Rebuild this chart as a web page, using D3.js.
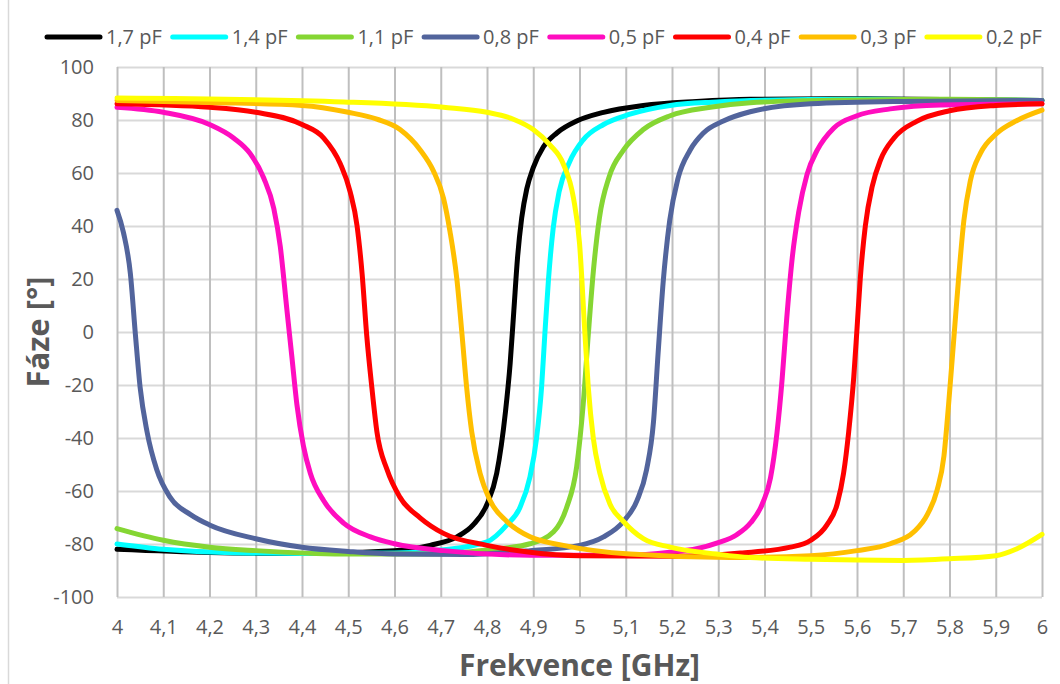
<!DOCTYPE html>
<html>
<head>
<meta charset="utf-8">
<script src="https://cdn.jsdelivr.net/npm/d3@7"></script>
<style>
  html, body { margin: 0; padding: 0; background: #fff; }
  svg { display: block; }
  text { font-family: "Open Sans", "Noto Sans", sans-serif; fill: #595959; }
</style>
</head>
<body>
<svg id="chart" width="1060" height="684"></svg>
<script>
// Phase response [°] vs. frequency [GHz] for several capacitances
const labels = ["1,7 pF", "1,4 pF", "1,1 pF", "0,8 pF", "0,5 pF", "0,4 pF", "0,3 pF", "0,2 pF"];

const xTicks = [4, 4.1, 4.2, 4.3, 4.4, 4.5, 4.6, 4.7, 4.8, 4.9, 5, 5.1, 5.2, 5.3, 5.4, 5.5, 5.6, 5.7, 5.8, 5.9, 6];
const yTicks = [-100, -80, -60, -40, -20, 0, 20, 40, 60, 80, 100];

// [frequency, phase] samples for each curve
const c17 = [[4.0,-82.0],[4.2,-83.2],[4.4,-83.6],[4.6,-82.5],[4.677,-80.5],[4.735,-77.3],[4.77,-72.8],[4.8,-65],[4.821,-53.3],
  [4.84,-30],[4.85,-12],[4.858,8],[4.866,28],[4.875,43],[4.886,54],[4.9,62],[4.922,69.9],[4.951,75.1],[4.994,79.6],
  [5.052,82.9],[5.138,85.5],[5.253,87],[5.369,87.8],[5.6,88],[6.0,87.4]];
const c14 = [[4.0,-80.0],[4.1,-82.0],[4.2,-83.0],[4.4,-83.6],[4.6,-83.4],[4.7,-82.3],[4.8,-79.2],[4.843,-72.8],[4.871,-66.3],
  [4.893,-54.6],[4.907,-40.3],[4.918,-20.9],[4.925,-1],[4.933,20],[4.943,39],[4.956,53],[4.978,64],[5.008,72.5],
  [5.052,78.3],[5.109,82.2],[5.196,85.5],[5.297,86.8],[5.37,87.4],[5.6,87.8],[6.0,87.4]];
const c11 = [[4.0,-74.2],[4.1,-78.6],[4.2,-81.2],[4.3,-82.5],[4.49,-83.8],[4.677,-83.8],[4.8,-82.3],[4.893,-79.9],[4.944,-75.4],
  [4.972,-66.3],[4.994,-50.7],[5.008,-27.3],[5.019,-1],[5.03,23],[5.043,43],[5.064,58.5],[5.095,68.6],[5.138,76.4],
  [5.196,81.6],[5.283,84.8],[5.369,86.5],[5.55,87.5],[5.8,87.8],[6.0,87.4]];
const c08 = [[4.0,45.9],[4.014,37.5],[4.029,21.9],[4.04,-1.4],[4.05,-20.9],[4.065,-37.7],[4.086,-52],[4.115,-62.4],[4.159,-68.9],
  [4.2,-72.8],[4.3,-78],[4.4,-81.2],[4.5,-82.8],[4.6,-83.8],[4.75,-84],[4.893,-82.5],[5.0,-80.5],[5.052,-77.3],[5.095,-71.5],
  [5.124,-63.7],[5.145,-52],[5.16,-33.9],[5.17,-7.9],[5.181,19],[5.195,42],[5.213,58],[5.239,68.6],[5.268,75.1],
  [5.311,79.6],[5.369,83.1],[5.5,86.1],[5.7,87],[6.0,87.4]];
const c05 = [[4.0,84.8],[4.1,82.9],[4.2,78.3],[4.252,73.2],[4.288,67.3],[4.317,58.2],[4.339,46.6],[4.353,32.3],[4.367,9],
  [4.378,-9.2],[4.389,-27.4],[4.403,-42.9],[4.418,-53.3],[4.447,-63.7],[4.49,-72.1],[4.548,-77.3],[4.6,-79.9],[4.706,-82.5],
  [4.893,-84.2],[5.1,-84.2],[5.2,-83],[5.253,-81.8],[5.3,-79.5],[5.34,-76.5],[5.37,-72],[5.395,-65],[5.413,-55],[5.427,-38],
  [5.438,-18],[5.448,5],[5.46,28],[5.474,45.3],[5.492,59.5],[5.514,68.6],[5.55,77],[5.6,81.6],[5.672,84.2],[5.78,85.7],[6.0,86.1]];
const c04 = [[4.0,86.1],[4.2,84.8],[4.3,82.9],[4.4,78.3],[4.447,73.2],[4.483,63.4],[4.504,53],[4.519,40.1],[4.53,21.9],
  [4.54,-1.4],[4.551,-20.9],[4.562,-37.7],[4.584,-52],[4.612,-62.4],[4.656,-70.2],[4.706,-76],[4.8,-80.5],[4.893,-83.1],
  [5.0,-84.4],[5.2,-84.6],[5.348,-83.4],[5.456,-81.2],[5.5,-78.6],[5.535,-72.8],[5.557,-65],[5.571,-53.3],[5.582,-37.7],
  [5.593,-17],[5.6,1.2],[5.607,20],[5.618,40],[5.633,55],[5.651,65],[5.68,73.2],[5.73,79.6],[5.8,83.5],[5.9,85.5],[6.0,86.1]];
const c03 = [[4.0,87.4],[4.2,86.6],[4.4,85.5],[4.5,82.9],[4.562,80.3],[4.612,76.4],[4.656,68.6],[4.684,60.8],[4.706,50.4],
  [4.72,37.9],[4.735,19.7],[4.746,-1],[4.756,-20.9],[4.767,-37.7],[4.785,-53.3],[4.807,-63.7],[4.843,-71.5],[4.893,-77.3],
  [4.965,-80.5],[5.109,-83.8],[5.325,-85.1],[5.5,-84.4],[5.6,-82.5],[5.672,-79.9],[5.723,-75.4],[5.752,-68.9],[5.773,-59.8],
  [5.788,-46.8],[5.798,-27.4],[5.81,-1],[5.82,21],[5.831,42],[5.845,57],[5.867,67.5],[5.9,74.6],[5.946,79.8],[6.0,83.7]];
const c02 = [[4.0,88.3],[4.49,86.8],[4.706,84.8],[4.8,82.9],[4.857,80.3],[4.9,76.4],[4.936,70.6],[4.965,63.4],[4.987,50.5],
  [5.0,33.6],[5.012,-1.4],[5.019,-20.9],[5.03,-40.3],[5.044,-53.3],[5.066,-65],[5.095,-71.5],[5.138,-78],[5.196,-81.2],
  [5.297,-83.8],[5.369,-85.1],[5.5,-85.8],[5.7,-86.2],[5.8,-85.6],[5.9,-84.4],[5.946,-81.8],[6.0,-76.4]];

const seriesData = [c17, c14, c11, c08, c05, c04, c03, c02];
const colors = ["#000000", "#00ffff", "#85d633", "#52649c", "#ff0dbf", "#ff0000", "#ffbf00", "#ffff00"];

const svg = d3.select("#chart");
const plot = { left: 117, right: 1042, top: 67, bottom: 597 };

const x = d3.scaleLinear().domain([4, 6]).range([plot.left, plot.right]);
const y = d3.scaleLinear().domain([-100, 100]).range([plot.bottom, plot.top]);
const fmt = d => String(+d.toFixed(1)).replace(".", ",");

// outer frame edge
svg.append("line").attr("x1", 8.5).attr("x2", 8.5).attr("y1", 0).attr("y2", 684)
  .attr("stroke", "#d9d9d9").attr("stroke-width", 1.5);

// horizontal gridlines
svg.append("g")
  .attr("transform", `translate(${plot.left},0)`)
  .call(d3.axisLeft(y).tickValues(yTicks).tickSize(-(plot.right - plot.left)).tickFormat(""))
  .call(g => g.select(".domain").remove())
  .call(g => g.selectAll("line").attr("stroke", "#d9d9d9").attr("stroke-width", 2));

// vertical gridlines
svg.append("g")
  .attr("transform", `translate(0,${plot.bottom})`)
  .call(d3.axisBottom(x).tickValues(xTicks).tickSize(-(plot.bottom - plot.top)).tickFormat(""))
  .call(g => g.select(".domain").remove())
  .call(g => g.selectAll("line").attr("stroke", "#bfbfbf").attr("stroke-width", 2));

// y tick labels
svg.append("g")
  .attr("transform", `translate(${plot.left},0)`)
  .call(d3.axisLeft(y).tickValues(yTicks).tickSize(0).tickPadding(23).tickFormat(d => String(d)))
  .call(g => g.select(".domain").remove())
  .call(g => g.selectAll("text").attr("font-size", 20).attr("fill", "#595959")
    .attr("font-family", "'Open Sans', sans-serif"));

// x tick labels
svg.append("g")
  .attr("transform", `translate(0,${plot.bottom})`)
  .call(d3.axisBottom(x).tickValues(xTicks).tickSize(0).tickPadding(23).tickFormat(fmt))
  .call(g => g.select(".domain").remove())
  .call(g => g.selectAll("text").attr("font-size", 20).attr("fill", "#595959")
    .attr("font-family", "'Open Sans', sans-serif"));

// axis titles
svg.append("text")
  .attr("transform", `translate(49,${(plot.top + plot.bottom) / 2}) rotate(-90)`)
  .attr("text-anchor", "middle")
  .attr("font-size", 31).attr("font-weight", "bold")
  .text("Fáze [°]");
svg.append("text")
  .attr("x", (plot.left + plot.right) / 2).attr("y", 676)
  .attr("text-anchor", "middle")
  .attr("font-size", 30).attr("font-weight", "bold")
  .text("Frekvence [GHz]");

// curves
const line = d3.line().x(d => x(d[0])).y(d => y(d[1])).curve(d3.curveMonotoneX);
svg.append("g")
  .selectAll("path")
  .data(seriesData)
  .join("path")
  .attr("d", line)
  .attr("fill", "none")
  .attr("stroke", (d, i) => colors[i])
  .attr("stroke-width", 5)
  .attr("stroke-linejoin", "round")
  .attr("stroke-linecap", "round");

// legend
const legend = svg.append("g").attr("transform", "translate(47,37)");
const item = legend.selectAll("g")
  .data(labels)
  .join("g")
  .attr("transform", (d, i) => `translate(${i * 125.7},0)`);
item.append("line")
  .attr("x1", 0).attr("x2", 53).attr("y1", 0).attr("y2", 0)
  .attr("stroke", (d, i) => colors[i])
  .attr("stroke-width", 5)
  .attr("stroke-linecap", "round");
item.append("text")
  .attr("x", 59).attr("y", 0).attr("dy", "0.35em")
  .attr("font-size", 20)
  .text(d => d);
</script>
</body>
</html>
